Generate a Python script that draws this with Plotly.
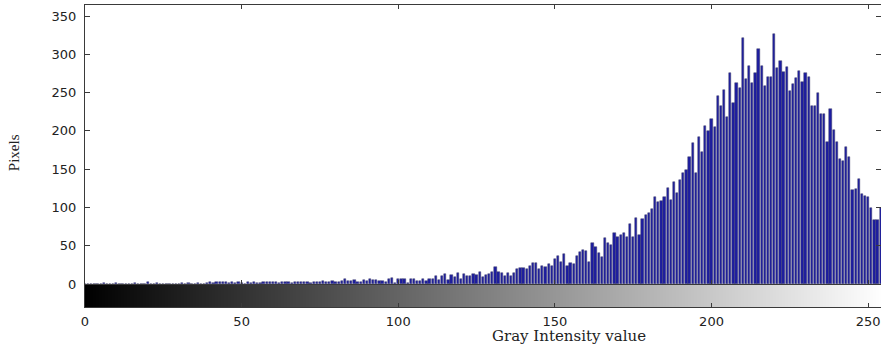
import plotly.graph_objects as go

# ---- data (256 gray-level bins) ----
gray_levels = list(range(256))

counts_0_94 = [
    0, 0, 0, 0, 0, 0, 1, 0, 0, 0, 1, 0, 0, 0, 0, 0, 1, 0, 0, 0,
    2, 0, 0, 1, 0, 0, 0, 0, 0, 0, 0, 1, 0, 1, 0, 0, 1, 0, 0, 1,
    2, 1, 3, 2, 3, 2, 1, 3, 1, 2, 1, 0, 2, 1, 2, 1, 1, 2, 3, 2,
    2, 3, 1, 2, 3, 2, 1, 2, 3, 2, 3, 2, 1, 3, 2, 3, 4, 2, 3, 4,
    2, 3, 4, 7, 4, 4, 5, 3, 3, 5, 4, 7, 5, 5, 4,
]
counts_95_164 = [
    4, 2, 6, 8, 1, 7, 7, 7, 1, 6, 6, 4, 4, 7, 4, 6, 6, 10, 5, 10,
    13, 5, 12, 9, 15, 7, 13, 11, 10, 13, 12, 16, 9, 12, 13, 16, 22, 16, 14, 10,
    15, 10, 15, 20, 21, 21, 19, 23, 28, 27, 20, 23, 22, 26, 23, 33,
    36, 29, 39, 23, 27, 26, 36, 42, 45, 43, 29, 53, 48, 40,
]
counts_165_255 = [
    35, 60, 53, 51, 67, 62, 64, 67, 61, 78, 61, 86, 64, 85, 90, 93, 98, 114, 107, 108,
    113, 126, 110, 133, 119, 136, 145, 149, 166, 184, 145, 192, 172, 207, 200, 215, 205, 245, 233, 254,
    218, 275, 237, 263, 256, 321, 268, 285, 263, 275, 307, 285, 258, 270, 270, 327, 282, 291, 277, 284,
    252, 261, 269, 278, 264, 275, 271, 232, 232, 250, 222, 222, 186, 228, 201, 186, 163, 161, 179, 166,
    123, 124, 137, 118, 115, 113, 99, 84, 84, 99, 95,
]
pixel_counts = counts_0_94 + counts_95_164 + counts_165_255

x_tick_values = [0, 50, 100, 150, 200, 250]
y_tick_values = [0, 50, 100, 150, 200, 250, 300, 350]

x_title = "Gray Intensity value"
y_title = "Pixels"

# ---- figure ----
W, H = 881, 345
ML, MR, MT, MB = 85, 0, 5, 38
plot_h = H - MT - MB
bar_strip = 23 / plot_h

frame = "#3a3a3a"
tick_font = dict(family="DejaVu Sans", size=13, color="#222222")

fig = go.Figure()

fig.add_trace(go.Heatmap(
    x=gray_levels, y=[0.5], z=[gray_levels],
    colorscale=[[0, "#000000"], [1, "#ffffff"]],
    showscale=False, xaxis="x", yaxis="y", hoverinfo="skip",
))

fig.add_trace(go.Bar(
    x=gray_levels, y=pixel_counts, width=0.72,
    marker=dict(color="#1c1ca0", line=dict(color="#404068", width=0.5)),
    xaxis="x2", yaxis="y2",
))

fig.update_layout(
    width=W, height=H,
    margin=dict(l=ML, r=MR, t=MT, b=MB),
    paper_bgcolor="white", plot_bgcolor="white",
    showlegend=False, bargap=0,
    xaxis=dict(
        domain=[0, 1], anchor="y", range=[0, 254.1],
        tickvals=x_tick_values, ticks="inside", ticklen=4, tickcolor=frame,
        showline=True, linecolor=frame, linewidth=1, mirror=False,
        showgrid=False, zeroline=False, tickfont=tick_font,
        ticklabeloverflow="allow", ticklabelstandoff=2,
    ),
    yaxis=dict(
        domain=[0, bar_strip], anchor="x", range=[0, 1],
        showticklabels=False, ticks="", showgrid=False, zeroline=False,
        showline=True, linecolor=frame, linewidth=1, mirror=True,
    ),
    xaxis2=dict(
        domain=[0, 1], anchor="y2", matches="x", range=[0, 254.1],
        tickvals=x_tick_values, ticks="inside", ticklen=4, tickcolor=frame,
        showticklabels=False, showline=True, linecolor=frame, linewidth=1,
        mirror="ticks", showgrid=False, zeroline=False,
    ),
    yaxis2=dict(
        domain=[bar_strip, 1], anchor="x2", range=[0, 364.4],
        tickvals=y_tick_values, ticks="inside", ticklen=5, tickcolor=frame,
        showline=True, linecolor=frame, linewidth=1, mirror="ticks",
        showgrid=False, zeroline=False, tickfont=tick_font,
        ticklabelstandoff=5,
    ),
    annotations=[
        dict(text=x_title, xref="paper", yref="paper", x=0.608, y=-0.095,
             xanchor="center", yanchor="middle", showarrow=False,
             font=dict(family="DejaVu Serif", size=15, color="#222222")),
        dict(text=y_title, xref="paper", yref="paper", x=-0.089, y=0.51,
             xanchor="center", yanchor="middle", showarrow=False, textangle=-90,
             font=dict(family="Liberation Serif", size=15, color="#222222")),
    ],
)

fig.write_html("out.html")
